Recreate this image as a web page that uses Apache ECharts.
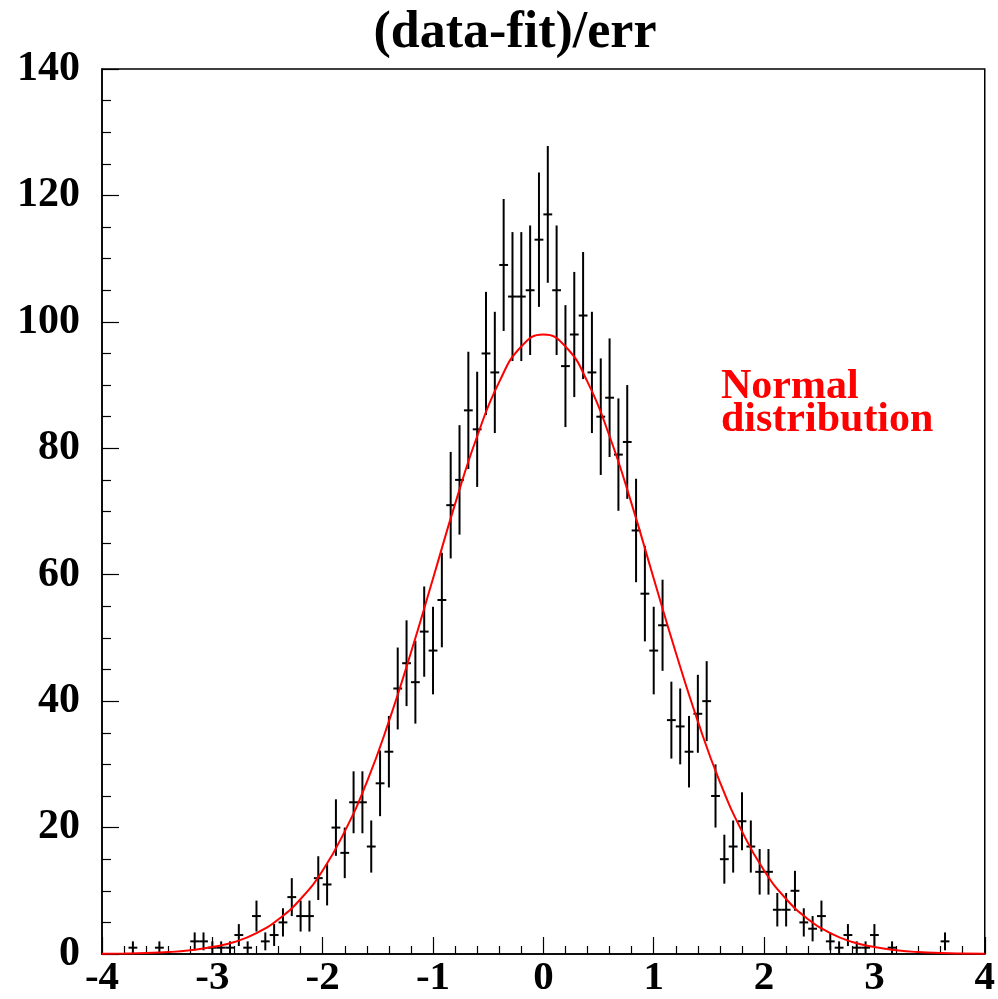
<!DOCTYPE html>
<html><head><meta charset="utf-8">
<script src="https://cdn.jsdelivr.net/npm/echarts@6/dist/echarts.min.js"></script>
<style>html,body{margin:0;padding:0;background:#fff}#c{width:998px;height:999px}</style>
</head><body><div id="c"></div>
<script>
// Histogram: 100 bins from -4 to 4
const binLow = -4;
const binWidth = 0.08;
const counts = [
  0,0,0,1,0,0,1,0,0,0,
  2,2,1,1,1,3,1,6,2,3,
  5,9,6,6,12,11,20,16,24,24,
  17,27,32,42,46,43,51,48,56,71,
  75,86,83,95,92,109,104,104,105,113,
  117,105,93,98,101,92,85,88,79,81,
  67,57,48,52,37,36,32,38,40,25,
  15,17,21,17,13,13,7,7,10,5,
  4,6,2,1,3,1,1,3,0,1,
  0,0,0,0,0,2,0,0,0,0
];
// Fit curve
const fitX = [-4,-3.8,-3.6,-3.4,-3.2,-3,-2.8,-2.6,-2.4,-2.2,-2,-1.8,-1.6,-1.4,-1.2,-1,-0.8,-0.6,-0.4,-0.2,0,
              0.2,0.4,0.6,0.8,1,1.2,1.4,1.6,1.8,2,2.2,2.4,2.6,2.8,3,3.2,3.4,3.6,3.8,4];
const fitY = [0.03,0.07,0.15,0.3,0.6,1.1,1.9,3.3,5.5,8.7,13.2,19.4,27.2,36.8,47.7,59.4,71.2,81.9,90.5,96.1,98,
              96.1,90.5,81.9,71.2,59.4,47.7,36.8,27.2,19.4,13.2,8.7,5.5,3.3,1.9,1.1,0.6,0.3,0.15,0.07,0.03];
const titleText = '(data-fit)/err';
const legendLines = ['Normal', 'distribution'];

const font = 'Liberation Serif';
const errData = [];
counts.forEach((c, i) => {
  if (c > 0) errData.push([binLow + binWidth * (i + 0.5), c, Math.sqrt(c)]);
});

const chart = echarts.init(document.getElementById('c'), null, {renderer: 'canvas'});
chart.setOption({
  animation: false,
  backgroundColor: '#fff',
  grid: {left: 102, right: 12, top: 69, bottom: 44, show: true, borderColor: '#000', borderWidth: 1.5, backgroundColor: 'transparent'},
  xAxis: {
    type: 'value', min: -4, max: 4, interval: 1,
    axisLine: {show: true, onZero: false, lineStyle: {color: '#000', width: 1.5}},
    axisTick: {show: true, inside: true, length: 17, lineStyle: {color: '#000', width: 1.2}},
    minorTick: {show: true, splitNumber: 5, length: 8, lineStyle: {color: '#000', width: 1.2}},
    splitLine: {show: false},
    axisLabel: {fontFamily: font, fontWeight: 'bold', fontSize: 41, color: '#000', margin: 4}
  },
  yAxis: {
    type: 'value', min: 0, max: 140, interval: 20,
    axisLine: {show: true, onZero: false, lineStyle: {color: '#000', width: 1.5}},
    axisTick: {show: true, inside: true, length: 17, lineStyle: {color: '#000', width: 1.2}},
    minorTick: {show: true, splitNumber: 4, length: 9, lineStyle: {color: '#000', width: 1.2}},
    splitLine: {show: false},
    axisLabel: {fontFamily: font, fontWeight: 'bold', fontSize: 42, color: '#000', margin: 22}
  },
  graphic: [
    {type: 'text', x: 515, y: 34, style: {text: titleText, font: 'bold 52px "Liberation Serif"', fill: '#000', align: 'center', verticalAlign: 'middle'}},
    {type: 'text', x: 721, y: 387, style: {text: legendLines[0], font: 'bold 42px "Liberation Serif"', fill: '#ff0000', verticalAlign: 'middle'}},
    {type: 'text', x: 721, y: 420, style: {text: legendLines[1], font: 'bold 42px "Liberation Serif"', fill: '#ff0000', verticalAlign: 'middle'}}
  ],
  series: [
    {
      type: 'custom', z: 2,
      data: errData,
      renderItem: function (params, api) {
        const x = api.value(0), y = api.value(1), e = api.value(2);
        const pTop = api.coord([x, y + e]);
        const pBot = api.coord([x, Math.max(0, y - e)]);
        const pL = api.coord([x - binWidth / 2, y]);
        const pR = api.coord([x + binWidth / 2, y]);
        const st = {stroke: '#000', lineWidth: 2};
        return {type: 'group', children: [
          {type: 'line', shape: {x1: pTop[0], y1: pTop[1], x2: pBot[0], y2: pBot[1]}, style: st},
          {type: 'line', shape: {x1: pL[0], y1: pL[1], x2: pR[0], y2: pR[1]}, style: st}
        ]};
      }
    },
    {
      type: 'line', z: 3, smooth: true, showSymbol: false, symbol: 'none',
      data: fitX.map((x, i) => [x, fitY[i]]),
      lineStyle: {color: '#ff0000', width: 2}
    }
  ]
});
</script></body></html>
